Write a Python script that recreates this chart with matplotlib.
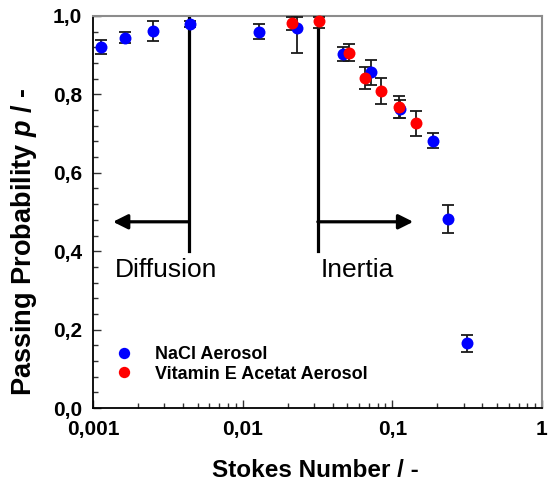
import numpy as np
import matplotlib
matplotlib.use("Agg")
import matplotlib.pyplot as plt
from matplotlib.ticker import FixedLocator, FuncFormatter, LogLocator, NullFormatter

# NaCl aerosol (blue)
nacl_st = [0.00113, 0.00163, 0.00252, 0.00444, 0.0129, 0.0229, 0.0466, 0.0721, 0.113, 0.187, 0.236, 0.316]
nacl_p = [0.920, 0.945, 0.962, 0.979, 0.960, 0.970, 0.903, 0.856, 0.762, 0.682, 0.483, 0.165]
nacl_lo = [0.018, 0.015, 0.026, 0.008, 0.019, 0.064, 0.018, 0.031, 0.023, 0.020, 0.036, 0.021]
nacl_hi = [0.018, 0.015, 0.026, 0.008, 0.019, 0.028, 0.018, 0.031, 0.023, 0.020, 0.036, 0.021]

# Vitamin E acetate aerosol (red)
ve_st = [0.0214, 0.0324, 0.0510, 0.0657, 0.0843, 0.110, 0.144]
ve_p = [0.981, 0.988, 0.906, 0.841, 0.809, 0.769, 0.726]
ve_lo = [0.017, 0.018, 0.022, 0.028, 0.034, 0.028, 0.031]
ve_hi = [0.017, 0.010, 0.022, 0.028, 0.034, 0.028, 0.031]

# regime boundaries and arrows
diff_line = 0.0044
inert_line = 0.0318
line_bottom = 0.4
arrow_y = 0.475
diff_arrow_end = 0.00136
inert_arrow_end = 0.138

plt.rcParams['font.family'] = ['Liberation Sans', 'DejaVu Sans']
plt.rcParams['mathtext.fontset'] = 'custom'
plt.rcParams['mathtext.bfit'] = 'Liberation Sans:italic:bold'

fig = plt.figure(figsize=(5.48, 4.84), dpi=100)
ax = fig.add_axes([0.1697, 0.157, 0.8193, 0.810])

eb_kw = dict(fmt='o', markersize=8.6, ecolor='#1a1a1a',
             elinewidth=1.3, capsize=4.3, capthick=1.3, clip_on=False, zorder=3)
nacl = ax.errorbar(nacl_st, nacl_p, yerr=[nacl_lo, nacl_hi], color='#0000ff', **eb_kw)
ve = ax.errorbar(ve_st, ve_p, yerr=[ve_lo, ve_hi], color='#ff0000', **eb_kw)
for eb in [nacl, ve]:
    eb[0].set_markeredgewidth(0)

# vertical regime lines
for xv in [diff_line, inert_line]:
    ax.plot([xv, xv], [line_bottom, 1.0], color='black', lw=2.3, zorder=2)

arrow_kw = dict(arrowstyle='-|>', color='black', lw=2.3, mutation_scale=22,
                shrinkA=0, shrinkB=0)
ax.annotate('', xy=(diff_arrow_end, arrow_y), xytext=(diff_line, arrow_y), arrowprops=arrow_kw)
ax.annotate('', xy=(inert_arrow_end, arrow_y), xytext=(inert_line, arrow_y), arrowprops=arrow_kw)

ax.text(0.00139, 0.351, 'Diffusion', fontsize=19, va='center', ha='left')
ax.text(0.0332, 0.351, 'Inertia', fontsize=19, va='center', ha='left')

ax.set_xscale('log')
ax.set_xlim(0.001, 1)
ax.set_ylim(0, 1.0)

ax.xaxis.set_major_locator(FixedLocator([0.001, 0.01, 0.1, 1]))
ax.xaxis.set_minor_locator(LogLocator(base=10, subs=np.arange(2, 10)))
ax.xaxis.set_minor_formatter(NullFormatter())
ax.xaxis.set_major_formatter(FuncFormatter(lambda v, pos: ('%g' % v).replace('.', ',')))
ax.yaxis.set_major_locator(FixedLocator([0, 0.2, 0.4, 0.6, 0.8, 1.0]))
ax.yaxis.set_minor_locator(FixedLocator(np.arange(0, 1.0001, 0.04)))
ax.yaxis.set_major_formatter(FuncFormatter(lambda v, pos: ('%.1f' % v).replace('.', ',')))

ax.tick_params(which='both', direction='in', width=1, colors='#333333', labelcolor='black')
ax.tick_params(which='major', length=6, labelsize=15)
ax.tick_params(which='minor', length=3.5)
ax.tick_params(axis='y', pad=8)
ax.tick_params(axis='x', pad=8.5)
for lab in ax.get_xticklabels() + ax.get_yticklabels():
    lab.set_fontweight('bold')

for s in ['left', 'bottom']:
    ax.spines[s].set_color('black')
    ax.spines[s].set_linewidth(1.3)
for s in ['top', 'right']:
    ax.spines[s].set_color('#8c8c8c')
    ax.spines[s].set_linewidth(1.5)

ax.set_xlabel('Stokes Number / -', fontsize=17.5, fontweight='bold')
ax.set_ylabel(r'Passing Probability $\mathbfit{p}$ / -', fontsize=19.5, fontweight='bold')
ax.xaxis.set_label_coords(0.495, -0.13)
ax.yaxis.set_label_coords(-0.12, 0.425)

ax.legend([nacl[0], ve[0]], ['NaCl Aerosol', 'Vitamin E Acetat Aerosol'],
          loc='lower left', bbox_to_anchor=(0.05, 0.065), frameon=False,
          prop={'weight': 'bold', 'size': 13}, markerscale=0.95,
          handlelength=0.9, handletextpad=1.3, labelspacing=0.15,
          borderpad=0, borderaxespad=0)

fig.savefig('out.png', dpi=100)
